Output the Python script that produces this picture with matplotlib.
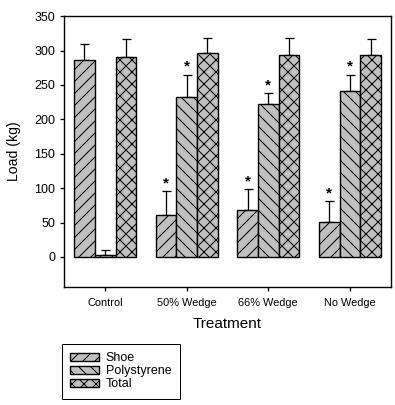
import matplotlib.pyplot as plt
import numpy as np

# drawn at 72 dpi so that one point is one pixel and the hatching is closer to the original
DPI = 72

plt.rcParams['font.family'] = ['Liberation Sans', 'DejaVu Sans']
plt.rcParams['hatch.linewidth'] = 1.0

treatments = ['Control', '50% Wedge', '66% Wedge', 'No Wedge']
series = ['Shoe', 'Polystyrene', 'Total']
shoe = [287, 61, 68, 51]
shoe_err = [23, 35, 31, 30]
poly = [3, 233, 223, 241]
poly_err = [7, 32, 15, 24]
total = [291, 296, 293, 293]
total_err = [26, 23, 26, 24]
# asterisks mark significant differences (shoe and polystyrene, wedge groups)
shoe_sig = [False, True, True, True]
poly_sig = [False, True, True, True]

hatches = ['//', '\\\\', 'xx']
width = 0.254

fig = plt.figure(figsize=(395 / DPI, 405 / DPI), dpi=DPI)
ax = fig.add_axes([0.163, 0.291, 0.826, 0.669])

x = np.arange(len(treatments))
data = [(shoe, shoe_err, shoe_sig), (poly, poly_err, poly_sig), (total, total_err, None)]
handles = []
for i, (vals, errs, sig) in enumerate(data):
    pos = x + (i - 1) * width
    b = ax.bar(pos, vals, width, color='#c0c0c0', edgecolor='black', linewidth=1.4,
               hatch=hatches[i], label=series[i], zorder=2)
    ax.errorbar(pos, vals, yerr=[np.zeros(len(vals)), errs], fmt='none', ecolor='black',
                elinewidth=1.3, capsize=4.5, capthick=1.3, zorder=1)
    handles.append(b)
    if sig is not None:
        for p, v, e, s in zip(pos, vals, errs, sig):
            if s:
                ax.text(p, v + e + 1, '*', ha='center', va='bottom', fontsize=15, fontweight='bold')

ax.set_xlim(-0.5, 3.5)
ax.set_ylim(-44, 350)
ax.set_yticks(np.arange(0, 351, 50))
ax.set_xticks(x)
ax.set_xticklabels(treatments, fontsize=11)
ax.tick_params(axis='y', labelsize=12.5, length=4, width=1.3, direction='out', pad=5)
ax.tick_params(axis='x', length=4, width=1.3, direction='out', pad=7)
for s in ax.spines.values():
    s.set_linewidth(1.4)
ax.set_ylabel('Load (kg)', fontsize=14, labelpad=13)
ax.set_xlabel('Treatment', fontsize=15.3, labelpad=9)

fig.legend(handles=handles, labels=series, loc='upper left', bbox_to_anchor=(0.157, 0.151),
           fontsize=12.5, frameon=True, fancybox=False, edgecolor='black', framealpha=1,
           handlelength=2.3, handleheight=0.62, labelspacing=0.1, borderpad=0.65,
           borderaxespad=0, handletextpad=0.55)

fig.savefig('out.png', dpi=DPI)
